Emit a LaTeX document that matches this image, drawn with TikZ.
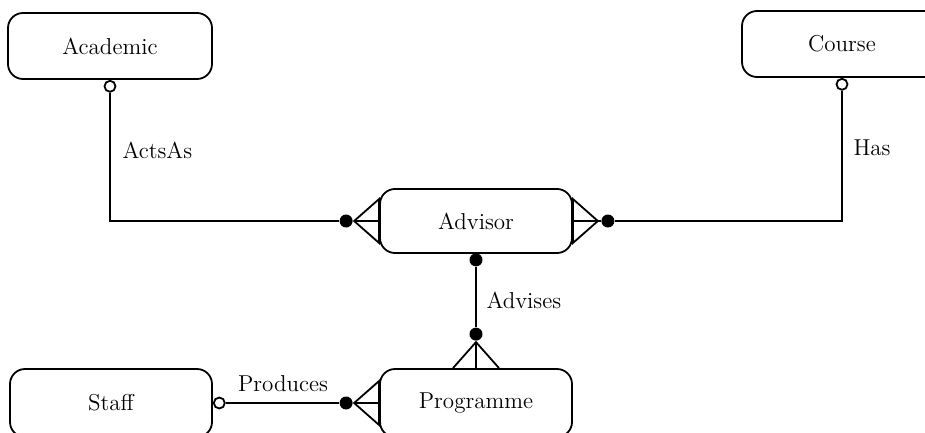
\documentclass[tikz,border=0pt]{standalone}
\usepackage{tikz}
\usetikzlibrary{shapes,arrows,positioning,calc}

\tikzset{
  entity/.style={draw, rounded corners=7.5pt, minimum width=96pt, minimum height=32pt,
    font=\fontsize{11.5}{13}\selectfont},
  optend/.style={draw, circle, fill=white, inner sep=0pt, minimum size=5.5pt},
  mustend/.style={fill, circle, inner sep=0pt, minimum size=6.5pt},
  rel/.style={font=\fontsize{11.5}{13}\selectfont, anchor=west}
}

\begin{document}
\begin{tikzpicture}[x=0.5pt,y=-0.5pt,line width=0.9pt]
      \clip (0,0) rectangle (925,433);
      % entities
      \node[entity, minimum width=102pt, minimum height=33pt] (aca) at (110,46) {Academic};
      \node[entity, minimum width=100pt, minimum height=33pt] (crs) at (842,44) {Course};
      \node[entity] (adv) at (476,221) {Advisor};
      \node[entity, minimum height=34pt] (prg) at (476,403) {Programme};
      \node[entity, minimum width=101pt, minimum height=34pt] (stf) at (111,403) {Staff};

      % optional ends
      \node[optend, anchor=north] (oa) at (aca.south) {};
      \node[optend, anchor=north] (oc) at (crs.south) {};
      \node[optend, anchor=west] (os) at (stf.east) {};

      % mandatory ends
      \node[mustend] (ma) at ($(adv.west)+(-33,0)$) {};
      \node[mustend] (mc) at ($(adv.east)+(35,0)$) {};
      \node[mustend] (mv) at ($(adv.south)+(0,6)$) {};
      \node[mustend] (mp) at ($(prg.north)+(0,-34)$) {};
      \node[mustend] (ms) at ($(prg.west)+(-33,0)$) {};

      % crow's feet
      \coordinate (fa) at ($(adv.west)+(-25,0)$);
      \coordinate (fc) at ($(adv.east)+(25,0)$);
      \coordinate (fv) at ($(prg.north)+(0,-26)$);
      \coordinate (fs) at ($(prg.west)+(-25,0)$);
      \draw (ma) -- (fa) -- (adv.west);
      \draw ($(adv.west)+(0,-22)$) -- (fa) -- ($(adv.west)+(0,22)$) -- cycle;
      \draw (mc) -- (fc) -- (adv.east);
      \draw ($(adv.east)+(0,-22)$) -- (fc) -- ($(adv.east)+(0,22)$) -- cycle;
      \draw (mp) -- (fv) -- (prg.north);
      \draw ($(prg.north)+(-23,0)$) -- (fv) -- ($(prg.north)+(23,0)$);
      \draw (ms) -- (fs) -- (prg.west);
      \draw ($(prg.west)+(0,-22)$) -- (fs) -- ($(prg.west)+(0,22)$) -- cycle;

      % relationships
      \draw (oa.south) |- (ma);
      \draw (oc.south) |- (mc);
      \draw (mv) -- (mp);
      \draw (os.east) -- (ms);

      \node[rel] (acts) at (115,150) {ActsAs};
      \node[rel] (has) at (846,148) {Has};
      \node[rel] (advs) at (479,300) {Advises};
      \node[rel, anchor=south] (prod) at (283,399) {Produces};
\end{tikzpicture}
\end{document}
